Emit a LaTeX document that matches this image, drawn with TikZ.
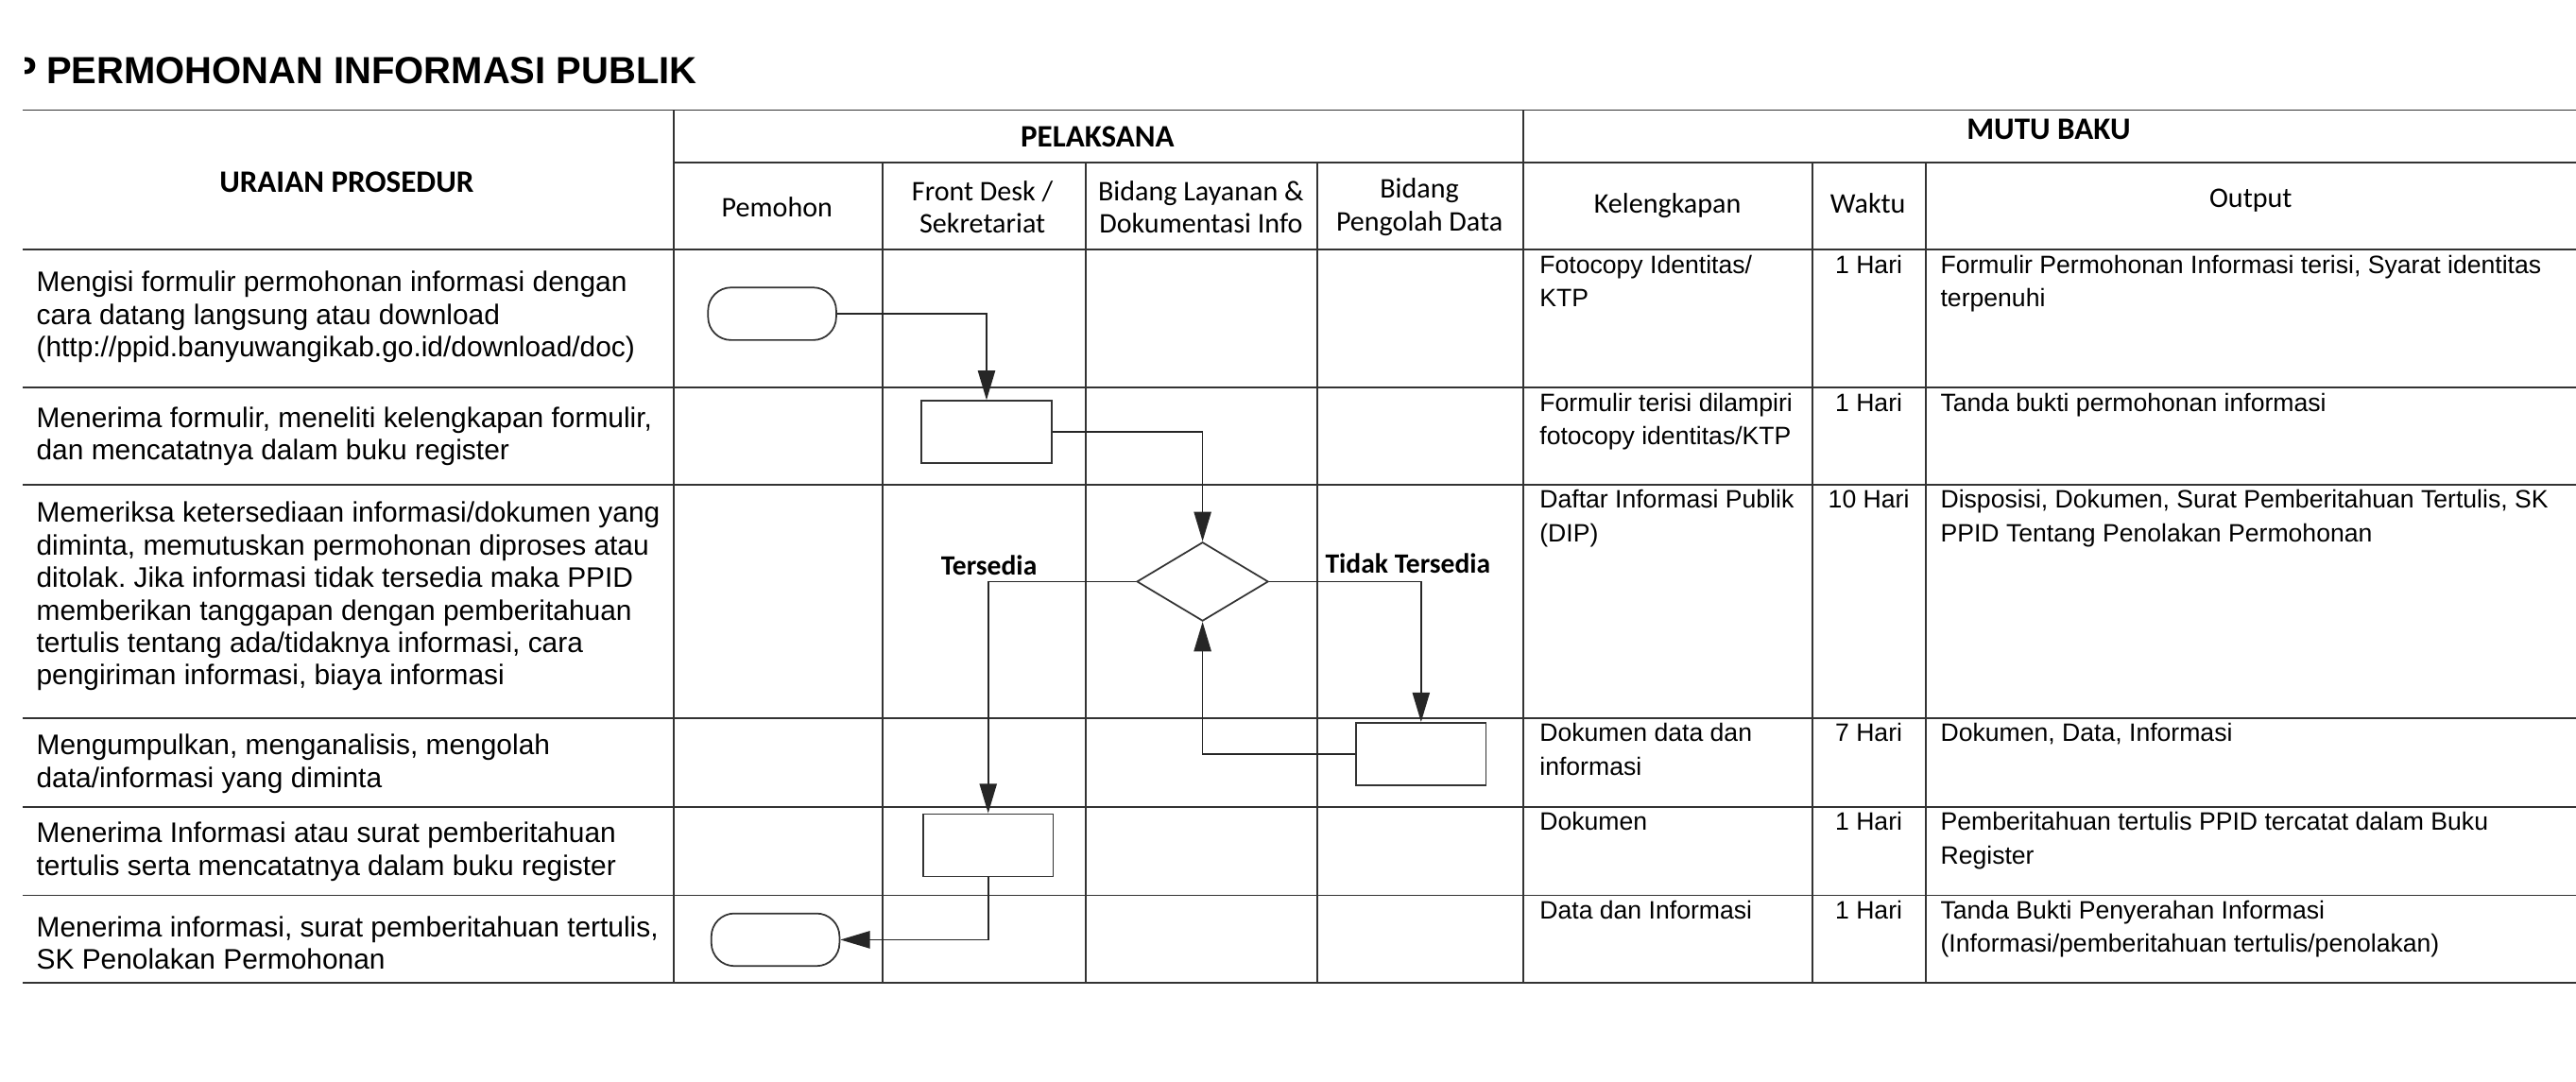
\documentclass[tikz,border=0pt]{standalone}
\usepackage{fontspec}
\setmainfont{Liberation Sans}
\newfontfamily\calib{Carlito}
\usetikzlibrary{arrows.meta,shapes.geometric}
\frenchspacing
\begin{document}
\begin{tikzpicture}[x=1pt,y=-1pt,
  grid/.style={line width=1.1pt, draw=black!80},
  shp/.style={draw=black!80, line width=1pt, fill=white, inner sep=0pt},
  term/.style={shp, rounded corners=14pt, minimum width=78pt, minimum height=32pt},
  boxn/.style={shp, minimum width=79pt, minimum height=38pt},
  dec/.style={shp, diamond, minimum width=80pt, minimum height=48pt},
  conn/.style={draw=black!85, line width=1pt, -{Triangle[length=18pt,width=10.5pt]}},
  lt/.style={font=\fontsize{17.2}{19.8}\selectfont, align=left, anchor=west, inner sep=0pt},
  rt/.style={font=\fontsize{15.3}{20.5}\selectfont, align=left, anchor=north west, inner sep=0pt},
  wk/.style={font=\fontsize{15.3}{20.5}\selectfont, anchor=north, inner sep=0pt},
  hd/.style={font=\calib\bfseries\fontsize{19}{22}\selectfont},
  sh/.style={font=\calib\fontsize{17.3}{20}\selectfont, align=center},
  lbl/.style={font=\calib\bfseries\fontsize{17}{20}\selectfont, inner sep=0pt},
  ttl/.style={font=\bfseries\fontsize{23}{27}\selectfont, inner sep=0pt}
]
\useasboundingbox (0,0) rectangle (1568,658.6);

% title
\begin{scope}
  \clip (15,30) rectangle (22,56);
  \node[ttl, anchor=base east] (cutp) at (23,51) {P};
\end{scope}
\node[ttl, anchor=base west] (title) at (28,51) {PERMOHONAN INFORMASI PUBLIK};

% table grid
\draw[grid] (14,67) -- (1568,67);
\draw[grid] (410,99) -- (1568,99);
\foreach \y in {152,236,295,437,491,545,598} \draw[grid] (14,\y) -- (1568,\y);
\foreach \x in {410,927} \draw[grid] (\x,67) -- (\x,598);
\foreach \x in {537,661,802,1103,1172} \draw[grid] (\x,99) -- (\x,598);

% headers
\node[hd] (hUraian) at (211,111) {URAIAN PROSEDUR};
\node[hd] (hPel) at (668,83) {PELAKSANA};
\node[hd] (hMutu) at (1247,79) {MUTU BAKU};
\node[sh] (hPem) at (473,126) {Pemohon};
\node[sh] (hFD) at (598,126) {Front Desk /\\Sekretariat};
\node[sh] (hBL) at (731,126) {Bidang Layanan \&\\Dokumentasi Info};
\node[sh] (hPD) at (864,126) {Bidang\\Pengolah Data};
\node[sh] (hKel) at (1015,125) {Kelengkapan};
\node[sh] (hWak) at (1137,124) {Waktu};
\node[sh] (hOut) at (1370,122) {Output};

% procedure descriptions
\node[lt] (u1) at (22,193) {Mengisi formulir permohonan informasi dengan\\cara datang langsung atau download\\(http://ppid.banyuwangikab.go.id/download/doc)};
\node[lt] (u2) at (22,265.5) {Menerima formulir, meneliti kelengkapan formulir,\\dan mencatatnya dalam buku register};
\node[lt] (u3) at (22,363) {Memeriksa ketersediaan informasi/dokumen yang\\diminta, memutuskan permohonan diproses atau\\ditolak. Jika informasi tidak tersedia maka PPID\\memberikan tanggapan dengan pemberitahuan\\tertulis tentang ada/tidaknya informasi, cara\\pengiriman informasi, biaya informasi};
\node[lt] (u4) at (22,465) {Mengumpulkan, menganalisis, mengolah\\data/informasi yang diminta};
\node[lt] (u5) at (22,518.5) {Menerima Informasi atau surat pemberitahuan\\tertulis serta mencatatnya dalam buku register};
\node[lt] (u6) at (22,574) {Menerima informasi, surat pemberitahuan tertulis,\\SK Penolakan Permohonan};

% kelengkapan
\node[rt] (k1) at (937,155) {Fotocopy Identitas/\\KTP};
\node[rt] (k2) at (937,239) {Formulir terisi dilampiri\\fotocopy identitas/KTP};
\node[rt] (k3) at (937,298) {Daftar Informasi Publik\\(DIP)};
\node[rt] (k4) at (937,440) {Dokumen data dan\\informasi};
\node[rt] (k5) at (937,494) {Dokumen};
\node[rt] (k6) at (937,548) {Data dan Informasi};

% waktu
\node[wk] (w1) at (1137.5,155) {1 Hari};
\node[wk] (w2) at (1137.5,239) {1 Hari};
\node[wk] (w3) at (1137.5,298) {10 Hari};
\node[wk] (w4) at (1137.5,440) {7 Hari};
\node[wk] (w5) at (1137.5,494) {1 Hari};
\node[wk] (w6) at (1137.5,548) {1 Hari};

% output
\node[rt] (o1) at (1181,155) {Formulir Permohonan Informasi terisi, Syarat identitas\\terpenuhi};
\node[rt] (o2) at (1181,239) {Tanda bukti permohonan informasi};
\node[rt] (o3) at (1181,298) {Disposisi, Dokumen, Surat Pemberitahuan Tertulis, SK\\PPID Tentang Penolakan Permohonan};
\node[rt] (o4) at (1181,440) {Dokumen, Data, Informasi};
\node[rt] (o5) at (1181,494) {Pemberitahuan tertulis PPID tercatat dalam Buku\\Register};
\node[rt] (o6) at (1181,548) {Tanda Bukti Penyerahan Informasi\\(Informasi/pemberitahuan tertulis/penolakan)};

% flow shapes
\node[term] (t1) at (470,191) {};
\node[boxn] (b1) at (600.5,263) {};
\node[dec] (d) at (732,354) {};
\node[boxn] (b2) at (865,459) {};
\node[boxn] (b3) at (601.5,514.5) {};
\node[term] (t2) at (472,572) {};

% connectors
\draw[conn] (t1.east) -| (b1.north);
\draw[conn] (b1.east) -| (d.north);
\draw[conn] (d.west) -| (b3.north);
\draw[conn] (d.east) -| (b2.north);
\draw[conn] (b2.west) -| (d.south);
\draw[conn] (b3.south) |- (t2.east);

\node[lbl] (lTs) at (602,344) {Tersedia};
\node[lbl] (lTt) at (857,343) {Tidak Tersedia};
\end{tikzpicture}
\end{document}
